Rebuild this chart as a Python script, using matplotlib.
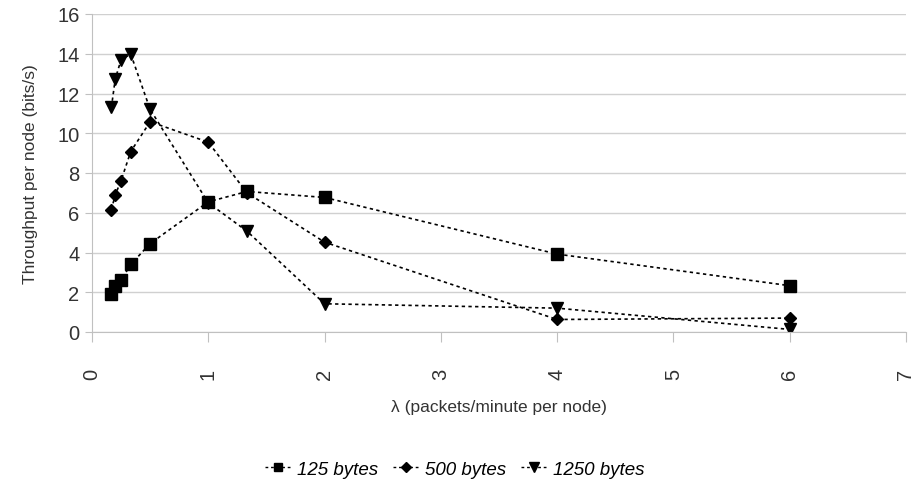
import matplotlib
matplotlib.use("Agg")
import matplotlib.pyplot as plt
from matplotlib.lines import Line2D

lam = [1/6, 1/5, 1/4, 1/3, 1/2, 1, 4/3, 2, 4, 6]
thr_125 = [1.92, 2.33, 2.6, 3.4, 4.45, 6.55, 7.07, 6.77, 3.92, 2.33]
thr_500 = [6.15, 6.9, 7.62, 9.08, 10.58, 9.55, 7.0, 4.52, 0.63, 0.7]
thr_1250 = [11.3, 12.73, 13.7, 13.98, 11.2, 6.5, 5.07, 1.42, 1.2, 0.13]
labels = ["125 bytes", "500 bytes", "1250 bytes"]
xticks = [0, 1, 2, 3, 4, 5, 6, 7]
yticks = [0, 2, 4, 6, 8, 10, 12, 14, 16]

plt.rcParams['font.family'] = ['Liberation Sans', 'DejaVu Sans']

fig = plt.figure(figsize=(9.12, 4.89), dpi=100)
ax = fig.add_axes([92/912, 1-333/489, (906-92)/912, (333-15)/489])

series = [(thr_125, 's', 8.5), (thr_500, 'D', 6.5), (thr_1250, 'v', 9)]
for ys, m, ms in series:
    ax.plot(lam, ys, color='black', linestyle=(0, (2, 2)), linewidth=1.2,
            marker=m, markersize=ms, markerfacecolor='black', markeredgecolor='black')

ax.set_xlim(0, 7)
ax.set_ylim(0, 16)
ax.set_xticks(xticks)
ax.set_yticks(yticks)
ax.grid(axis='y', color='#d0d0d0', linewidth=1)
ax.set_axisbelow(True)
for s in ['top', 'right']:
    ax.spines[s].set_visible(False)
for s in ['left', 'bottom']:
    ax.spines[s].set_color('#c0c0c0')
ax.tick_params(axis='x', length=7, color='#c0c0c0', labelrotation=90, pad=19,
               labelsize=14.5, labelcolor='#333333')
ax.tick_params(axis='y', length=5, color='#c0c0c0', labelsize=14.5, labelcolor='#333333', pad=4)
ax.set_xlabel("λ (packets/minute per node)", fontsize=12.5, color='#333333', labelpad=14)
ax.set_ylabel("Throughput per node (bits/s)", fontsize=12.5, color='#333333', labelpad=14)

handles = [Line2D([], [], color='black', linestyle=(0, (2, 2)), linewidth=1.0,
                  marker=m, markersize=ms*0.75, markerfacecolor='black')
           for (_, m, ms) in series]
fig.legend(handles, labels, loc='center', bbox_to_anchor=(455/912, 1-470/489),
           ncol=3, frameon=False, handlelength=1.4, handletextpad=0.3, columnspacing=0.8,
           prop={'style': 'italic', 'size': 13.5})

fig.savefig("out.png", dpi=100)
